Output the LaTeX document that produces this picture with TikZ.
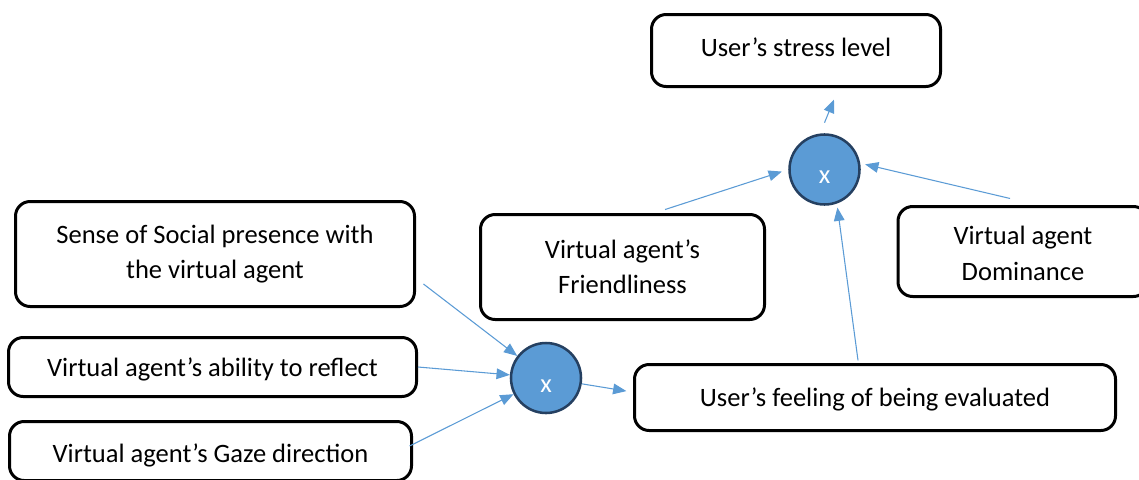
\documentclass[tikz,border=0pt]{standalone}
\usepackage{fontspec}
\setmainfont{Carlito}
\usepackage{xcolor}
\usetikzlibrary{arrows.meta}
\definecolor{arrblue}{RGB}{91,155,213}
\definecolor{rimblue}{RGB}{37,64,97}
\newcommand{\nudge}[2]{\raisebox{#1}[\height][\depth]{#2}}

\begin{document}
\begin{tikzpicture}[x=0.75pt,y=-0.75pt,
    box/.style={draw, line width=2.25pt, rounded corners=11pt, align=center, inner sep=0pt},
    mult/.style={circle, draw=rimblue, fill=arrblue, line width=1.9pt, minimum size=52.5pt,
      inner sep=0pt, text=white, text height=21pt, text depth=0pt},
    link/.style={arrblue, line width=0.8pt, ->},
    >={Triangle[length=10pt,width=8pt]}, font=\fontsize{19.9}{26.3}\selectfont]

  \useasboundingbox (0,0) rectangle (1139,479);

  \node[box,minimum width=216.75pt,minimum height=54pt] (stress) at (796,50.5) {\nudge{2.25pt}{User’s stress level}};
  \node[mult] (m2) at (824.5,169.5) {x};
  \node[box,minimum width=213pt,minimum height=78.75pt] (friend) at (622.5,267) {Virtual agent’s\\Friendliness};
  \node[box,minimum width=187.5pt,minimum height=67.5pt] (domin) at (1023,251.5)
    {\nudge{-3pt}{\begin{tabular}{@{}c@{}}Virtual agent\\Dominance\end{tabular}}};
  \node[box,minimum width=299.25pt,minimum height=78.75pt] (social) at (215,254) {Sense of Social presence with\\the virtual agent};
  \node[box,minimum width=306pt,minimum height=44.25pt] (reflect) at (212.5,367) {\nudge{-1.5pt}{Virtual agent’s ability to reflect}};
  \node[box,minimum width=301.5pt,minimum height=44.25pt] (gaze) at (210.5,451) {\nudge{-3pt}{Virtual agent’s Gaze direction}};
  \node[mult] (m1) at (546,378) {x};
  \node[box,minimum width=360.75pt,minimum height=49.5pt] (eval) at (875,397.5) {\nudge{-1.5pt}{User’s feeling of being evaluated}};

  \draw[link] ([xshift=5.6pt,yshift=-22.5pt]social.east) -- (m1);
  \draw[link] (reflect.east) -- (m1);
  \draw[link] ([xshift=-2.6pt,yshift=3.75pt]gaze.east) -- (m1);
  \draw[link,shorten >=5pt] (m1) -- ([yshift=4pt]eval.west);
  \draw[link,shorten >=3pt] ([xshift=-12.75pt,yshift=2pt]eval.north) -- (m2.-70);
  \draw[link,shorten >=5pt] ([xshift=31.9pt,yshift=2.6pt]friend.north) -- (m2.west);
  \draw[link,shorten >=3.75pt] ([xshift=-9.75pt,yshift=4.9pt]domin.north) -- (m2.10);
  \draw[link] ([yshift=7.9pt]m2.north) -- ([xshift=28.5pt,yshift=-8.6pt]stress.south);
\end{tikzpicture}
\end{document}
